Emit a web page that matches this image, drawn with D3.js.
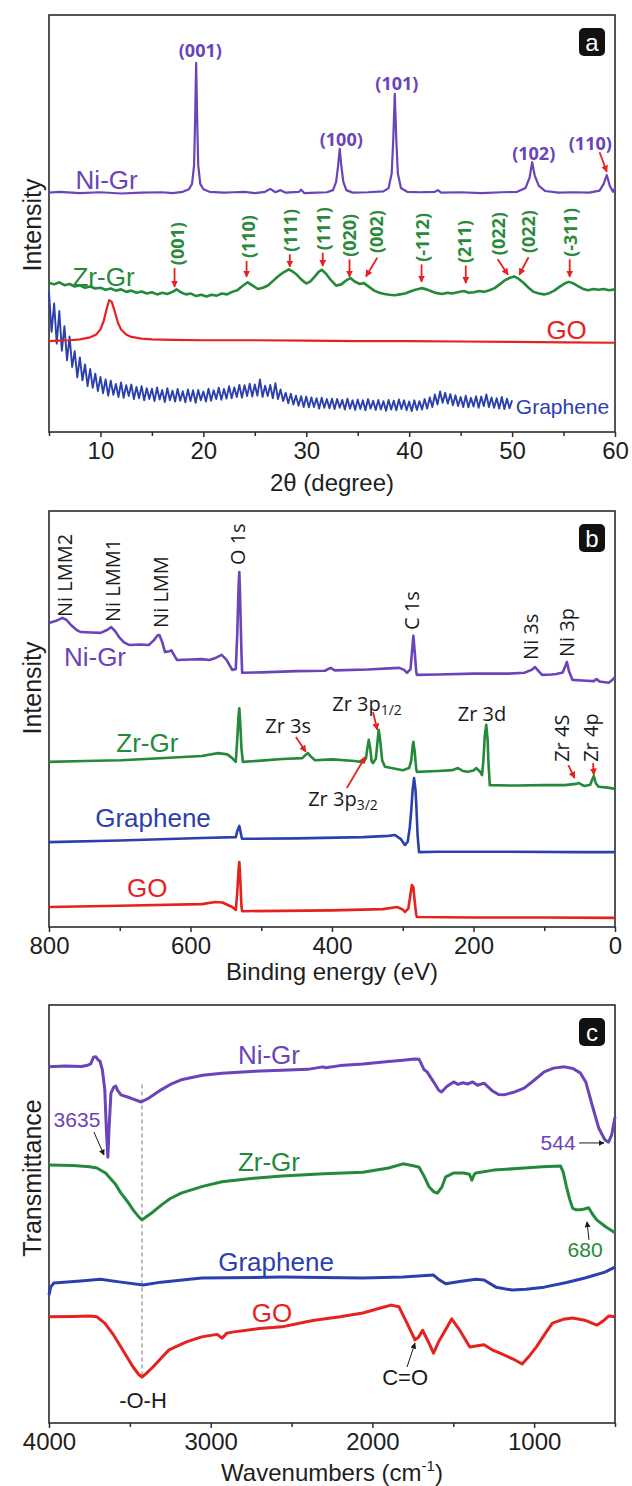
<!DOCTYPE html>
<html>
<head>
<meta charset="utf-8">
<script src="https://cdn.jsdelivr.net/npm/d3@7"></script>
<style>
  html, body { margin: 0; padding: 0; background: #fff; }
  svg { display: block; }
  .tick text { font-family: "Liberation Sans", Arial, sans-serif; }
</style>
</head>
<body>
<div id="chart"></div>
<script>
// ---------- panel a: XRD (2theta, intensity a.u.) ----------
const xrdNiGr = [[5,57.4],[6,57.6],[8,57.3],[10,57.5],[12,57.2],[14,57.4],[16,57.5],[17,57.3],[18,57.6],[18.6,58.2],[18.9,59.5],[19.1,64],[19.2,75],[19.3,88.5],[19.4,75],[19.5,64],[19.7,59.5],[20.0,58.2],[20.6,57.6],[22,57.4],[23,57.5],[24,57.6],[25,57.3],[26,57.6],[26.5,58.3],[27,57.5],[27.5,58.0],[28,57.4],[29.3,57.6],[29.5,58.1],[29.8,57.3],[31,57.4],[32,57.5],[32.6,58],[32.9,60],[33.1,64],[33.25,67.9],[33.4,64],[33.6,60],[33.9,58],[34.5,57.4],[36,57.5],[37.5,57.7],[38.0,58.5],[38.3,62],[38.45,70],[38.6,81.1],[38.75,70],[38.9,62],[39.2,58.5],[39.8,57.6],[41,57.5],[42.5,57.6],[42.8,58.0],[43.1,57.4],[45,57.5],[47,57.3],[49,57.5],[50.5,57.6],[51.3,58.5],[51.7,61],[51.95,64.7],[52.2,61.5],[52.6,59],[53.2,57.8],[54.5,57.4],[56,57.5],[57.5,57.4],[58.5,57.9],[58.9,59.5],[59.2,61.6],[59.5,59],[59.8,57.6],[60,58.5]];
const xrdZrGr = [[5,35.8],[5.5,35.4],[6,35.9],[6.5,35.2],[7,35.5],[7.5,34.9],[8,35.2],[8.5,34.6],[9,34.9],[9.5,34.4],[10,34.6],[10.5,34.1],[11,34.4],[11.5,33.9],[12,34.2],[12.5,33.6],[13,33.9],[13.5,33.4],[14,33.7],[14.5,33.2],[15,33.5],[15.5,33.0],[16,33.4],[16.5,33.1],[17,33.6],[17.4,34.2],[17.8,33.5],[18.3,33.0],[18.8,33.2],[19.3,32.6],[19.8,32.9],[20.3,32.5],[20.8,32.9],[21.3,32.7],[21.8,33.2],[22.3,33.0],[22.8,33.6],[23.3,34.0],[23.8,35.0],[24.3,35.9],[24.8,35.1],[25.3,34.3],[25.8,34.6],[26.3,35.2],[26.8,36.3],[27.3,37.4],[27.8,38.3],[28.3,39.0],[28.6,38.6],[29.0,37.9],[29.5,36.6],[30.0,35.6],[30.4,36.1],[30.8,37.2],[31.2,38.4],[31.5,38.9],[31.9,38.0],[32.4,36.4],[32.9,35.1],[33.4,35.4],[33.9,36.4],[34.3,36.9],[34.7,36.1],[35.2,35.5],[35.6,35.7],[36.1,34.8],[36.6,33.9],[37.1,33.4],[37.6,33.1],[38.1,32.9],[38.6,32.8],[39.1,33.0],[39.6,33.2],[40.1,33.7],[40.6,34.1],[41.2,34.5],[41.7,34.2],[42.2,33.7],[42.7,33.3],[43.2,33.1],[43.7,33.4],[44.2,33.2],[44.7,33.5],[45.3,33.8],[45.8,33.4],[46.3,33.5],[46.8,33.8],[47.3,33.6],[47.8,34.0],[48.3,34.5],[48.8,35.4],[49.3,36.4],[49.8,37.0],[50.2,37.3],[50.6,36.8],[51.1,35.8],[51.6,34.6],[52.1,33.6],[52.6,33.2],[53.1,33.0],[53.6,33.3],[54.1,33.9],[54.6,34.8],[55.1,35.6],[55.5,36.0],[55.9,35.7],[56.4,35.0],[56.9,34.3],[57.4,34.0],[57.9,34.3],[58.4,34.1],[58.9,34.3],[59.4,34.0],[60,34.2]];
const xrdGO = [[5,21.8],[6,21.9],[7,22.0],[8,22.2],[9,22.7],[9.6,23.4],[10.0,24.6],[10.3,26.5],[10.6,29.5],[10.85,31.6],[11.1,31.2],[11.4,28.8],[11.7,26.2],[12.0,24.6],[12.5,23.4],[13,22.8],[14,22.4],[15,22.2],[17,22.1],[20,22.0],[25,22.0],[30,21.9],[35,21.8],[40,21.8],[45,21.7],[50,21.6],[55,21.5],[60,21.4]];
// graphene XRD: one reading every 0.25 deg from 5 to 50 (noisy trace)
const xrdGrapheneStart = 5, xrdGrapheneStep = 0.25;
const xrdGraphene = [
  33.5,24.0,30.8,21.2,29.0,19.5,25.4,17.2,22.9,15.6,
  19.4,13.1,17.9,12.4,16.2,11.0,15.1,10.6,14.0,9.8,
  13.2,9.3,12.6,8.7,12.3,8.9,11.5,8.4,11.9,8.2,
  11.2,8.6,11.4,7.9,10.8,8.1,11.0,7.6,10.5,7.9,
  10.4,7.4,10.7,7.8,10.1,7.2,10.5,7.6,9.9,7.3,
  10.3,7.5,9.8,7.1,10.2,7.4,10.0,7.0,10.1,7.6,
  9.7,7.3,10.4,7.5,10.0,7.9,10.6,7.7,10.3,8.0,
  11.0,8.1,10.7,8.4,11.3,8.2,11.2,8.6,11.6,8.5,
  11.4,8.7,12.6,8.4,11.1,8.6,11.3,8.1,11.7,7.9,
  10.2,7.4,9.4,6.9,9.2,6.6,8.7,6.3,8.6,6.0,
  8.5,5.9,8.3,6.0,8.1,5.6,8.2,5.8,7.9,5.7,
  8.0,5.5,7.9,5.8,7.7,5.4,8.0,5.6,7.6,5.3,
  7.8,5.5,7.6,5.2,7.9,5.6,7.5,5.3,7.7,5.4,
  7.4,5.1,7.7,5.4,7.5,5.2,7.8,5.5,7.6,5.2,
  7.3,5.0,7.6,5.3,7.4,5.4,7.9,5.6,8.3,6.0,
  9.0,6.6,9.7,7.0,9.4,6.8,9.1,6.4,8.8,6.2,
  8.4,6.0,8.7,5.9,8.2,6.1,8.6,5.8,8.5,6.2,
  9.0,6.0,8.3,5.8,8.1,5.6,8.4,5.5,8.0,5.7,
  7.6
];
// hkl labels: [text, 2theta, label y (a.u.)]
const niGrPeaks = [['(001)',19.7,91.6],['(100)',33.4,70.3],['(101)',38.8,83.7],['(102)',52.1,66.9],['(110)',57.6,69.3]];
// Zr-Gr labels: [text, 2theta, bottom of label, arrow x0, y0, x1, y1]
const zrGrPeaks = [
  ['(001)',17.4,40.0,17.2,39.3,17.2,34.8],
  ['(110)',24.3,41.7,24.2,41.0,24.2,37.2],
  ['(111)',28.4,43.2,28.4,42.6,28.4,39.6],
  ['(111)',31.6,43.6,31.6,43.0,31.6,39.8],
  ['(020)',34.2,42.0,34.2,41.4,34.2,37.2],
  ['(002)',36.8,42.9,36.9,41.8,35.8,37.3],
  ['(-112)',41.2,40.8,41.2,40.2,41.2,36.0],
  ['(211)',45.3,40.5,45.5,39.9,45.5,35.7],
  ['(022)',48.6,42.4,48.6,41.4,49.6,37.7],
  ['(022)',51.5,42.9,51.6,41.9,50.7,37.7],
  ['(-311)',55.6,42.0,55.6,41.4,55.6,37.2]
];

// ---------- panel b: XPS (binding energy eV, intensity a.u.) ----------
const xpsNiGr = [[800,73.1],[790,73.6],[781,74.3],[775,73.8],[769,72.6],[760,71.3],[755,70.9],[740,70.8],[727,70.7],[718,71.4],[712,72.1],[706,71.0],[701,69.7],[694,68.4],[687,67.8],[670,67.9],[659,67.8],[652,68.9],[646,70.2],[644,70.2],[640,68.5],[636,66.1],[630,66.3],[627,66.5],[622,65.0],[619,64.2],[600,64.3],[585,64.4],[573,64.2],[563,64.8],[556,65.4],[549,64.2],[541,61.8],[536,62.0],[534,70],[532,82],[531,85.3],[530,80],[528,66],[527,61.1],[500,61.2],[450,61.5],[410,61.6],[402,62.3],[396,61.7],[350,61.9],[305,62.3],[298,61.8],[294,61.1],[289,62],[287,66],[285,70.0],[283,66],[281,61.5],[280,60.6],[250,60.7],[200,60.9],[150,60.9],[128,61.1],[118,61.8],[113,62.5],[108,61.5],[103,60.6],[90,60.7],[83,60.8],[74,61.2],[70,62.8],[68,63.7],[65,61.5],[60,59.4],[40,59.2],[30,59.1],[26,59.6],[22,59.0],[9,58.7],[3,59.5],[0,60.1]];
const xpsZrGr = [[800,39.7],[750,39.9],[698,40.1],[650,40.5],[584,41.1],[561,41.8],[548,41.5],[541,40.6],[536,39.7],[534,45],[532,51],[531,52.6],[530,50],[528,43],[526,39.7],[500,40.0],[470,40.4],[442,40.6],[437,41.4],[434,41.8],[430,41.0],[424,40.1],[400,40.3],[368,39.9],[356,39.6],[352,40.5],[350,43],[348,45.0],[346,43],[344,39.8],[342,39.4],[338,40.5],[336,44],[334,47.4],[332,45],[329,40],[325,38.5],[300,37.7],[291,38.2],[288,40],[286,43.5],[285,44.5],[283,42],[281,38],[280,37.3],[250,37.5],[230,37.7],[222,38.2],[215,37.5],[208,37.3],[200,37.6],[196,38.2],[190,37.2],[188,36.5],[186,40],[184,46],[182,48.6],[180,45],[179,40],[177,34.1],[140,34.0],[100,34.1],[71,34.1],[55,34.4],[51,34.6],[47,34.2],[43,33.9],[35,34.2],[32,35.5],[30,36.3],[27,34.5],[23,33.7],[10,33.5],[0,33.2]];
const xpsGraphene = [[800,20.4],[700,20.8],[584,21.4],[536,21.6],[534,23],[531,24.3],[528,21.8],[527,21.2],[450,21.3],[356,21.6],[320,21.9],[311,22.1],[303,21.2],[297,19.7],[293,20.5],[290,24],[288,28],[286,33],[284,35.8],[282,33],[281,30],[279,22],[277,18.0],[250,18.1],[150,18.1],[50,18.0],[0,18.0]];
const xpsGO = [[800,4.8],[700,5.1],[584,5.5],[565,6.0],[555,5.9],[541,4.8],[536,4.1],[534,8],[532,14],[531,15.6],[530,13],[528,5],[527,3.8],[400,4.0],[328,4.3],[308,4.8],[300,4.2],[297,3.6],[292,4.5],[289,8],[287,10.1],[285,9.5],[283,6],[281,3],[280,2.4],[200,2.3],[100,2.3],[0,2.2]];
// vertical labels: [text, eV, bottom (a.u.)]
const xpsVertLabels = [['Ni LMM2',778,74.5],['Ni LMM1',710,73.3],['Ni LMM',642,71.9],['O 1s',533,87.0],['C 1s',288,71.4],['Ni 3s',120,64.2],['Ni 3p',69,64.9],['Zr 4S',75,39.7],['Zr 4p',34,39.7]];
// horizontal labels: [main, subscript, eV, a.u.]
const xpsHorizLabels = [['Zr 3s','',462,48.6],['Zr 3p','1/2',350.5,53.8],['Zr 3p','3/2',384.5,31.0],['Zr 3d','',188,51.4]];
// red arrows: [eV0, y0, eV1, y1]
const xpsArrows = [[451,45.7,437,42.1],[342,51.7,336,47.4],[379,33.4,353,40.9],[66,38.9,57,35.8],[31,39.4,30,36.6]];

// ---------- panel c: FTIR (wavenumber cm-1, transmittance a.u.) ----------
const ftirNiGr = [[4000,85.2],[3900,85.4],[3800,85.3],[3760,85.6],[3742,85.9],[3725,87.5],[3710,87.6],[3695,86.8],[3685,86.6],[3670,84.5],[3655,79.7],[3645,70],[3636,63.6],[3628,71],[3617,78.9],[3600,80.3],[3587,80.6],[3575,79.5],[3555,78.5],[3500,77.8],[3430,76.8],[3380,77.8],[3307,79.7],[3250,81.0],[3183,82.1],[3050,83.2],[2930,83.7],[2750,84.1],[2559,84.4],[2400,84.6],[2306,85.2],[2290,85.0],[2200,85.5],[2059,85.9],[1900,86.5],[1811,86.8],[1740,87.1],[1711,87.0],[1680,84.5],[1662,84.0],[1620,81.5],[1590,79.6],[1573,79.2],[1540,80.5],[1498,81.6],[1470,81.0],[1440,81.4],[1411,81.1],[1380,81.6],[1350,80.8],[1310,81.3],[1260,79.5],[1220,78.6],[1186,78.5],[1120,79.2],[1062,80.1],[1000,82.0],[938,84.0],[880,84.9],[812,85.2],[760,84.8],[713,83.7],[680,81.5],[638,75.6],[600,70.5],[562,67.7],[540,67.2],[520,69],[500,73.2]];
const ftirZrGr = [[4000,61.7],[3850,61.6],[3750,61.3],[3704,61.0],[3650,59.8],[3630,58.9],[3590,57.2],[3555,55.0],[3515,53.0],[3480,51.0],[3445,49.3],[3425,48.6],[3400,49.3],[3357,50.5],[3300,52.3],[3250,53.7],[3183,55.0],[3050,56.6],[2930,57.7],[2750,58.5],[2559,59.1],[2300,59.6],[2059,60.0],[1900,61.0],[1811,62.0],[1740,61.5],[1711,61.2],[1680,59],[1650,56.5],[1620,55.3],[1598,55.0],[1570,56.5],[1547,58.9],[1500,59.8],[1436,59.8],[1400,59.5],[1385,58.1],[1370,59.5],[1360,59.8],[1250,60.5],[1062,61.0],[950,61.3],[837,61.5],[820,60],[800,56.5],[780,53.5],[762,51.4],[740,51.0],[713,51.0],[690,51.2],[663,51.5],[640,50.0],[613,48.6],[560,47],[500,45.5]];
const ftirGraphene = [[4000,30.6],[3990,32.5],[3970,33.5],[3804,34.0],[3682,34.4],[3555,33.7],[3418,33.0],[3307,33.7],[3056,34.7],[2559,34.9],[2059,34.7],[1811,34.9],[1622,35.4],[1585,34.2],[1547,33.3],[1450,33.9],[1360,34.4],[1310,34.2],[1236,32.5],[1137,31.8],[1050,32.0],[938,32.5],[800,33.6],[686,34.7],[562,36.1],[500,37.3]];
const ftirGO = [[4000,25.4],[3850,25.5],[3750,25.6],[3704,25.4],[3655,23.9],[3600,21.0],[3555,18.2],[3515,15.6],[3480,13.4],[3445,11.6],[3425,11.0],[3400,11.8],[3357,13.4],[3300,15.8],[3258,17.5],[3150,19.4],[3056,20.6],[2960,21.2],[2930,20.3],[2900,21.5],[2856,21.8],[2700,22.6],[2559,23.0],[2400,24.3],[2358,24.6],[2200,25.4],[2059,26.3],[1950,27.5],[1885,28.2],[1836,27.8],[1786,23.9],[1737,19.9],[1715,20.5],[1690,22.2],[1655,19.5],[1622,16.7],[1590,19.5],[1560,21.5],[1510,24.9],[1460,22.2],[1398,18.2],[1350,18.5],[1310,18.7],[1260,17.5],[1211,16.7],[1130,15.3],[1074,14.1],[1030,16.0],[986,18.2],[930,21.5],[887,23.9],[820,24.8],[762,25.1],[680,24.5],[612,23.4],[570,24.5],[538,25.6],[500,25.4]];
const ohLine = [3425, 81, 11];   // wavenumber, top, bottom
// [text, wn, a.u., color, arrow wn0, y0, wn1, y1]
const ftirNotes = [
  ['3635',3827,72.5,'ni',3722,69.6,3660,64.1],
  ['544',852,67.2,'ni',722,67.0,568,67.0],
  ['680',685,41.4,'zr',661,43.8,673,48.1],
  ['-O-H',3419,5.5,'k',null],
  ['C=O',1798,10.8,'k',1786,13.4,1737,19.1]
];

// series names & label positions
const seriesNames = {ni:'Ni-Gr', zr:'Zr-Gr', go:'GO', gr:'Graphene'};
const xrdNameAt = [['ni',10.6,60.4,26],['zr',10.3,37.2,26],['go',55.3,24.5,26],['gr',54.9,6.0,21]];
const xpsNameAt = [['ni',735,64.9],['zr',661,44.2],['gr',653,26.2],['go',661,9.4]];
const ftirNameAt = [['ni',2640,88.0],['zr',2640,62.4],['gr',2596,38.5],['go',2621,26.3]];

// ---------- drawing ----------
const W = 632, H = 1486, LEFT = 49, RIGHT = 615;
const color = {ni:'#6a44b8', zr:'#24893a', go:'#e6221f', gr:'#2b40ae', k:'#1a1a1a'};
const sans = '"Liberation Sans", Arial, sans-serif';
const open = '"Open Sans", "Noto Sans", sans-serif';

const svg = d3.select('#chart').append('svg')
  .attr('width', W).attr('height', H)
  .style('background', '#fff');

const defs = svg.append('defs');
[['red', '#e8211e', 7], ['blk', '#1a1a1a', 6]].forEach(([id, c, s]) => {
  defs.append('marker')
    .attr('id', 'arrow-' + id)
    .attr('viewBox', '0 -5 10 10')
    .attr('refX', 9).attr('refY', 0)
    .attr('markerUnits', 'userSpaceOnUse')
    .attr('markerWidth', s).attr('markerHeight', s)
    .attr('orient', 'auto')
    .append('path')
    .attr('d', 'M0,-5L10,0L0,5Z')
    .attr('fill', c);
});

function makePanel(cfg) {
  const g = svg.append('g');
  const x = d3.scaleLinear().domain(cfg.xDomain).range([LEFT, RIGHT]);
  const y = d3.scaleLinear().domain([0, 100]).range([cfg.bottom, cfg.top]);

  // frame
  g.append('rect')
    .attr('x', LEFT).attr('y', cfg.top)
    .attr('width', RIGHT - LEFT).attr('height', cfg.bottom - cfg.top)
    .attr('fill', 'none').attr('stroke', '#2b2b2b').attr('stroke-width', 1.6);

  // minor ticks
  g.append('g')
    .attr('transform', `translate(0,${cfg.bottom})`)
    .call(d3.axisBottom(x).tickValues(cfg.minor).tickSize(4).tickFormat(''))
    .call(a => a.select('.domain').remove())
    .call(a => a.selectAll('line').attr('stroke', '#2b2b2b').attr('stroke-width', 1.5));

  // major ticks + labels
  g.append('g')
    .attr('transform', `translate(0,${cfg.bottom})`)
    .call(d3.axisBottom(x).tickValues(cfg.major).tickSize(5).tickPadding(5).tickFormat(d3.format('d')))
    .call(a => a.select('.domain').remove())
    .call(a => a.selectAll('line').attr('stroke', '#2b2b2b').attr('stroke-width', 1.5))
    .call(a => a.selectAll('text').attr('font-size', 24).attr('fill', '#1e1e1e').attr('font-family', sans));

  // x title
  const t = g.append('text')
    .attr('x', (LEFT + RIGHT) / 2).attr('y', cfg.titleY)
    .attr('text-anchor', 'middle')
    .attr('font-family', sans).attr('font-size', 24).attr('fill', '#1e1e1e');
  cfg.title(t);

  // y title
  g.append('text')
    .attr('transform', `translate(32,${cfg.yTitleAt}) rotate(-90)`)
    .attr('text-anchor', 'middle').attr('dominant-baseline', 'central')
    .attr('font-family', sans).attr('font-size', 25).attr('fill', '#1e1e1e')
    .text(cfg.yTitle);

  // badge
  const bx = RIGHT - 36, by = cfg.top + 13;
  g.append('rect').attr('x', bx).attr('y', by).attr('width', 26).attr('height', 28)
    .attr('rx', 5).attr('fill', '#111');
  g.append('text').attr('x', bx + 13).attr('y', by + 14)
    .attr('text-anchor', 'middle').attr('dominant-baseline', 'central')
    .attr('font-family', sans).attr('font-size', 24).attr('fill', '#fff')
    .text(cfg.badge);

  const plot = g.append('g');
  return {x, y, g: plot};
}

function drawLine(p, data, key, width) {
  p.g.append('path')
    .datum(data)
    .attr('fill', 'none')
    .attr('stroke', color[key])
    .attr('stroke-width', width)
    .attr('stroke-linejoin', 'round')
    .attr('d', d3.line().x(d => p.x(d[0])).y(d => p.y(d[1])));
}

function drawArrow(p, a, kind, width) {
  p.g.append('line')
    .attr('x1', p.x(a[0])).attr('y1', p.y(a[1]))
    .attr('x2', p.x(a[2])).attr('y2', p.y(a[3]))
    .attr('stroke', kind === 'red' ? '#e8211e' : '#1a1a1a')
    .attr('stroke-width', width)
    .attr('marker-end', `url(#arrow-${kind})`);
}

function nameLabel(p, key, xv, yv, size, family) {
  p.g.append('text')
    .attr('x', p.x(xv)).attr('y', p.y(yv))
    .attr('text-anchor', 'middle').attr('dominant-baseline', 'central')
    .attr('font-family', family || sans).attr('font-size', size)
    .attr('fill', color[key])
    .text(seriesNames[key]);
}

// ---- panel a
const pa = makePanel({
  xDomain: [5, 60], top: 15, bottom: 432,
  major: [10, 20, 30, 40, 50, 60], minor: [5, 15, 25, 35, 45, 55],
  titleY: 491, yTitle: 'Intensity', yTitleAt: 225, badge: 'a',
  title: t => { t.append('tspan').text('2\u03B8 (degree)'); }
});
const xrdGrapheneData = xrdGraphene.map((v, i) => [xrdGrapheneStart + i * xrdGrapheneStep, v]);
drawLine(pa, xrdGrapheneData, 'gr', 1.9);
drawLine(pa, xrdGO, 'go', 2.2);
drawLine(pa, xrdZrGr, 'zr', 2.6);
drawLine(pa, xrdNiGr, 'ni', 2.2);
xrdNameAt.forEach(([k, xv, yv, s]) => nameLabel(pa, k, xv, yv, s));

niGrPeaks.forEach(([txt, xv, yv]) => {
  pa.g.append('text')
    .attr('x', pa.x(xv)).attr('y', pa.y(yv))
    .attr('text-anchor', 'middle').attr('dominant-baseline', 'central')
    .attr('font-family', open).attr('font-weight', 'bold').attr('font-size', 18)
    .attr('fill', color.ni).text(txt);
});
drawArrow(pa, [58.5, 67.1, 59.2, 62.4], 'red', 1.8);

zrGrPeaks.forEach(([txt, xv, yb, ...arr]) => {
  pa.g.append('text')
    .attr('transform', `translate(${pa.x(xv)},${pa.y(yb)}) rotate(-90)`)
    .attr('text-anchor', 'start').attr('dominant-baseline', 'central')
    .attr('font-family', open).attr('font-weight', 'bold').attr('font-size', 18)
    .attr('fill', '#2a8a3a').text(txt);
  drawArrow(pa, arr, 'red', 1.8);
});

// ---- panel b
const pb = makePanel({
  xDomain: [800, 0], top: 511, bottom: 927,
  major: [800, 600, 400, 200, 0], minor: [700, 500, 300, 100],
  titleY: 980, yTitle: 'Intensity', yTitleAt: 688, badge: 'b',
  title: t => { t.text('Binding energy (eV)'); }
});
drawLine(pb, xpsGO, 'go', 2.6);
drawLine(pb, xpsGraphene, 'gr', 2.6);
drawLine(pb, xpsZrGr, 'zr', 2.6);
drawLine(pb, xpsNiGr, 'ni', 2.6);
xpsNameAt.forEach(([k, xv, yv]) => nameLabel(pb, k, xv, yv, 26));

xpsVertLabels.forEach(([txt, xv, yb]) => {
  pb.g.append('text')
    .attr('transform', `translate(${pb.x(xv)},${pb.y(yb)}) rotate(-90)`)
    .attr('text-anchor', 'start').attr('dominant-baseline', 'central')
    .attr('font-family', open).attr('font-size', 20).attr('fill', '#1a1a1a')
    .text(txt);
});
xpsHorizLabels.forEach(([txt, sub, xv, yv]) => {
  const t = pb.g.append('text')
    .attr('x', pb.x(xv)).attr('y', pb.y(yv))
    .attr('text-anchor', 'middle').attr('dominant-baseline', 'central')
    .attr('font-family', open).attr('font-size', 20).attr('fill', '#1a1a1a');
  t.append('tspan').text(txt);
  if (sub) t.append('tspan').attr('font-size', 14).attr('dy', 6).text(sub);
});
xpsArrows.forEach(a => drawArrow(pb, a, 'red', 1.8));

// ---- panel c
const pc = makePanel({
  xDomain: [4000, 500], top: 1005, bottom: 1423,
  major: [4000, 3000, 2000, 1000], minor: [3500, 2500, 1500, 500],
  titleY: 1481, yTitle: 'Transmittance', yTitleAt: 1178, badge: 'c',
  title: t => {
    t.append('tspan').text('Wavenumbers (cm');
    t.append('tspan').attr('font-size', 15).attr('dy', -10).text('-1');
    t.append('tspan').attr('dy', 10).text(')');
  }
});
pc.g.append('line')
  .attr('x1', pc.x(ohLine[0])).attr('x2', pc.x(ohLine[0]))
  .attr('y1', pc.y(ohLine[1])).attr('y2', pc.y(ohLine[2]))
  .attr('stroke', '#777').attr('stroke-width', 1).attr('stroke-dasharray', '4,3');
drawLine(pc, ftirGO, 'go', 3);
drawLine(pc, ftirGraphene, 'gr', 3);
drawLine(pc, ftirZrGr, 'zr', 3);
drawLine(pc, ftirNiGr, 'ni', 3);
ftirNameAt.forEach(([k, xv, yv]) => nameLabel(pc, k, xv, yv, 26));

ftirNotes.forEach(([txt, xv, yv, k, ...arr]) => {
  pc.g.append('text')
    .attr('x', pc.x(xv)).attr('y', pc.y(yv))
    .attr('text-anchor', 'middle').attr('dominant-baseline', 'central')
    .attr('font-family', sans).attr('font-size', k === 'k' ? 22 : 21)
    .attr('fill', k === 'k' ? '#1a1a1a' : color[k]).text(txt);
  if (arr[0] !== null) drawArrow(pc, arr, 'blk', 1);
});
</script>
</body>
</html>
